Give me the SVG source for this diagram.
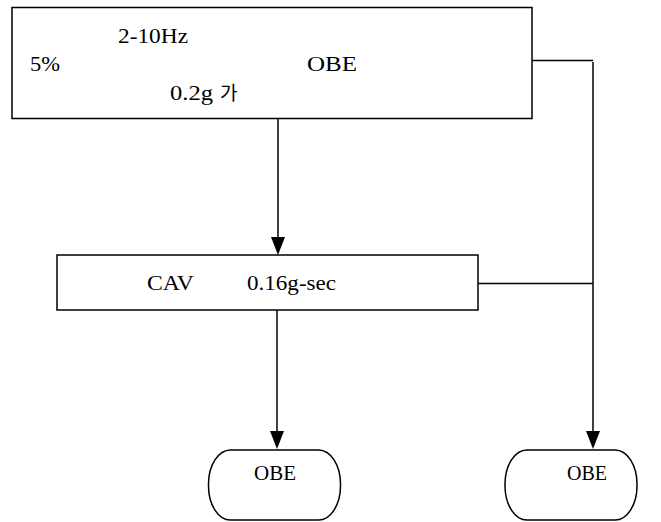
<svg xmlns="http://www.w3.org/2000/svg" width="661" height="522" viewBox="0 0 661 522">
<style>
.box{fill:#fff;stroke:#000;stroke-width:1.5}
.ln{fill:none;stroke:#000;stroke-width:1.5}
.t{font-family:'Liberation Serif','Times New Roman',serif;font-size:22px;fill:#000}
.k{font-family:'Noto Sans CJK KR',sans-serif;font-size:19px;fill:#000}
</style>
<rect width="661" height="522" fill="#fff"/>
<g id="connectors">
<line class="ln" x1="278" y1="118" x2="278" y2="237"/>
<polygon points="271,237 285,237 278,255" fill="#000"/>
<polyline class="ln" points="532,60.5 593,60.5"/>
<line class="ln" x1="593" y1="62" x2="593" y2="431"/>
<polygon points="586,431 600,431 593,449" fill="#000"/>
<line class="ln" x1="478" y1="283.5" x2="593" y2="283.5"/>
<line class="ln" x1="277" y1="310" x2="277" y2="431"/>
<polygon points="270,431 284,431 277,449" fill="#000"/>
</g>
<g id="node-top">
<rect class="box" x="12" y="7.5" width="520" height="111"/>
<text class="t" x="118" y="43" textLength="70" lengthAdjust="spacingAndGlyphs">2-10Hz</text>
<text class="t" x="30" y="71" textLength="30" lengthAdjust="spacingAndGlyphs">5%</text>
<text class="t" x="307" y="71" textLength="50" lengthAdjust="spacingAndGlyphs">OBE</text>
<text class="t" x="170" y="100" textLength="43" lengthAdjust="spacingAndGlyphs">0.2g</text>
<text class="k" x="220" y="100">가</text>
</g>
<g id="node-cav">
<rect class="box" x="57" y="255" width="421" height="55"/>
<text class="t" x="147" y="290" textLength="47" lengthAdjust="spacingAndGlyphs">CAV</text>
<text class="t" x="247" y="290" textLength="89" lengthAdjust="spacingAndGlyphs">0.16g-sec</text>
</g>
<g id="node-obe1">
<rect class="box" x="208.5" y="450" width="132" height="70" rx="22" ry="34"/>
<text class="t" x="254" y="480" textLength="42" lengthAdjust="spacingAndGlyphs">OBE</text>
</g>
<g id="node-obe2">
<rect class="box" x="505" y="450" width="132" height="70" rx="22" ry="34"/>
<text class="t" x="567" y="480" textLength="40" lengthAdjust="spacingAndGlyphs">OBE</text>
</g>
</svg>
